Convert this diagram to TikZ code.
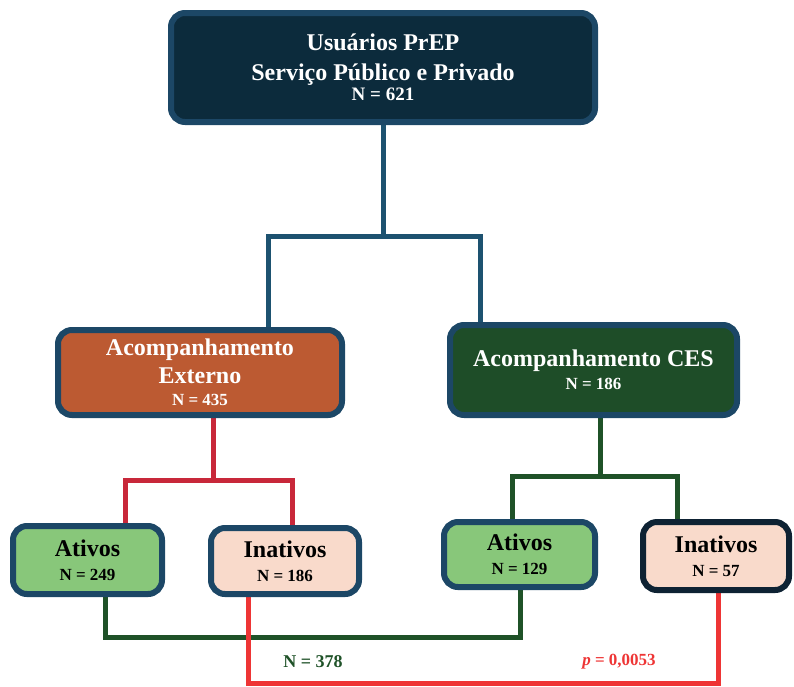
\documentclass[tikz,border=0pt]{standalone}
\usepackage{fontspec}
\setmainfont{Liberation Serif}
\usetikzlibrary{backgrounds}
\definecolor{boxborder}{HTML}{1C4766}
\definecolor{topfill}{HTML}{0C2B3C}
\definecolor{extfill}{HTML}{BC5A32}
\definecolor{cesfill}{HTML}{1E4D28}
\definecolor{ativfill}{HTML}{88C77A}
\definecolor{inatfill}{HTML}{F9DACB}
\definecolor{darkborder}{HTML}{0E2233}
\definecolor{bluelinkc}{HTML}{1D5270}
\definecolor{redlinkc}{HTML}{C8283A}
\definecolor{redlongc}{HTML}{EE3535}
\definecolor{greenlinkc}{HTML}{1F5228}
\newcommand{\bigtxt}{\fontsize{24}{28}\selectfont}
\newcommand{\ntxt}{\fontsize{17}{20}\selectfont}
\begin{document}
\begin{tikzpicture}[x=1pt,y=-1pt,
    box/.style={rounded corners=14pt,line width=6pt,draw=boxborder,align=center,
        font=\bfseries\bigtxt,inner sep=2pt},
    link/.style={line width=5pt},
    bluelink/.style={link,draw=bluelinkc},
    redlink/.style={link,draw=redlinkc},
    redlong/.style={link,draw=redlongc},
    greenlink/.style={link,draw=greenlinkc}]
    \useasboundingbox (0,0) rectangle (794,686);

    \begin{scope}[every node/.style={box}]
        \node[fill=topfill,text=white,minimum width=424pt,minimum height=109pt] (U) at (383,67.5)
            {Usuários PrEP\\[2pt] Serviço Público e Privado\\[-8pt] {\fontsize{19}{22}\selectfont N = 621}};
        \node[fill=extfill,text=white,minimum width=284pt,minimum height=85pt] (E) at (200,372.5)
            {Acompanhamento\\ Externo\\[-6pt] {\ntxt N = 435}};
        \node[fill=cesfill,text=white,minimum width=287pt,minimum height=90pt] (C) at (593.5,370)
            {Acompanhamento CES\\[-5pt] {\ntxt N = 186}};
        \node[fill=ativfill,minimum width=149pt,minimum height=68pt] (A1) at (87.5,560)
            {Ativos\\[-4pt] {\ntxt N = 249}};
        \node[fill=inatfill,minimum width=148pt,minimum height=66pt] (I1) at (285,561)
            {Inativos\\[-4pt] {\ntxt N = 186}};
        \node[fill=ativfill,minimum width=151pt,minimum height=65pt] (A2) at (519.5,554.5)
            {Ativos\\[-4pt] {\ntxt N = 129}};
        \node[fill=inatfill,draw=darkborder,minimum width=146pt,minimum height=68pt] (I2) at (716,556)
            {Inativos\\[-4pt] {\ntxt N = 57}};
    \end{scope}

    \coordinate (UL) at (268,236);
    \coordinate (UR) at (480,236);
    \coordinate (EJ) at (213,480);
    \coordinate (EL) at (125,480);
    \coordinate (ER) at (292,480);
    \coordinate (CJ) at (600,476);
    \coordinate (CL) at (512,476);
    \coordinate (CR) at (677,476);
    \coordinate (G1) at (105,637);
    \coordinate (G2) at (520,637);
    \coordinate (R1) at (248,683);
    \coordinate (R2) at (718,683);

    \begin{scope}[on background layer]
        \draw[bluelink] (U.south) -- (U.south |- UL);
        \draw[bluelink] (E.north -| UL) -- (UL) -- (UR) -- (C.north -| UR);
        \draw[redlink] (E.south -| EJ) -- (EJ);
        \draw[redlink] (A1.north -| EL) -- (EL) -- (ER) -- (I1.north -| ER);
        \draw[greenlink] (C.south -| CJ) -- (CJ);
        \draw[greenlink] (A2.north -| CL) -- (CL) -- (CR) -- (I2.north -| CR);
        \draw[greenlink] (A1.south -| G1) -- (G1) -- (G2) -- (A2.south -| G2);
        \draw[redlong] (I1.south -| R1) -- (R1) -- (R2) -- (I2.south -| R2);
    \end{scope}

    \node[text=greenlinkc,font=\bfseries\fontsize{18}{20}\selectfont] (N378) at (313,662) {N = 378};
    \node[text=redlongc,font=\bfseries\ntxt] (pval) at (619,662) {\textit{p} = 0,0053};
\end{tikzpicture}
\end{document}
